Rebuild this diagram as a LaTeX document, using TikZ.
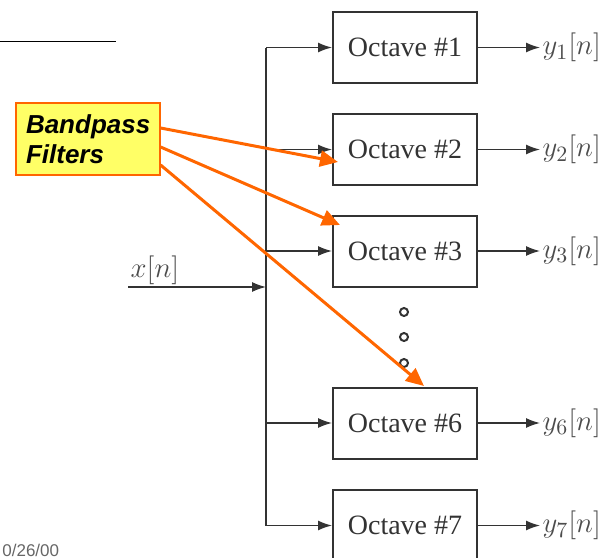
\documentclass[tikz,border=0pt]{standalone}
\usepackage{fontspec}
\setmainfont{Liberation Serif}
\newfontfamily\notefont{Liberation Sans}
\usetikzlibrary{arrows.meta}

\definecolor{noteorange}{HTML}{FF6600}
\definecolor{noteyellow}{HTML}{FFFF66}
\definecolor{wire}{HTML}{333333}

\begin{document}
\begin{tikzpicture}[x=0.5pt,y=-0.5pt,
    octave/.style={draw=wire,line width=1pt,minimum width=72pt,minimum height=35.5pt,inner sep=0pt,
        font=\fontsize{14}{16}\selectfont,text=black!80},
    sig/.style={-{Latex[length=7pt,width=5pt]},line width=0.7pt,draw=wire},
    sigtext/.style={text=black!70,font=\fontsize{15.5}{17}\selectfont,inner sep=1pt},
    hint/.style={-{Triangle[length=9pt,width=8pt]},line width=1.5pt,draw=noteorange},
    dot/.style={circle,draw=wire,line width=1pt,minimum size=4pt,inner sep=0pt}]
    \useasboundingbox (0,0) rectangle (612,558);

    % draw title rule
    \draw[line width=0.5pt] (0,41) -- (116,41);

    % draw octave boxes
    \node[octave] (oct1) at (405,47.5) {Octave \#1};
    \node[octave] (oct2) at (405,149.5) {Octave \#2};
    \node[octave] (oct3) at (405,251) {Octave \#3};
    \node[octave] (oct6) at (405,423) {Octave \#6};
    \node[octave] (oct7) at (405,525.5) {Octave \#7};

    % draw dots between boxes
    \node[dot] (dot1) at (404,312) {};
    \node[dot] (dot2) at (404,337) {};
    \node[dot] (dot3) at (404,363) {};

    % draw input and bus
    \coordinate (bus) at (266,0);
    \coordinate (xin) at (128,287);
    \coordinate (out) at (540,0);
    \draw[sig] (xin) node[sigtext,above right] (xlabel) {$x[n]$} -- (bus |- xin);
    \draw[line width=0.7pt,draw=wire] (bus |- oct1) -- (bus |- oct7);
    \foreach \k in {1,2,3,6,7} {
        \draw[sig] (bus |- oct\k) -- (oct\k.west);
        \draw[sig] (oct\k.east) -- (oct\k.east -| out) node[sigtext,right] (y\k) {$y_{\k}[n]$};
    }

    % draw bandpass note
    \node[draw=noteorange,line width=0.6pt,fill=noteyellow,minimum width=72pt,minimum height=36pt,
        inner xsep=5pt,text width=62pt,align=left,
        font=\notefont\bfseries\itshape\fontsize{13}{15}\selectfont] (bp) at (88,139) {Bandpass\\Filters};
    \coordinate (tip2) at (338,162);
    \coordinate (tip3) at (340,225);
    \coordinate (tip6) at (424,386);
    \draw[hint] ([yshift=5.5pt]bp.east) -- (tip2);
    \draw[hint] ([yshift=-4pt]bp.east) -- (tip3);
    \draw[hint] ([yshift=-13pt]bp.east) -- (tip6);

    % draw date
    \node[anchor=base west,inner sep=0pt,text=black!60,font=\notefont\fontsize{8.5}{10}\selectfont] (date) at (2,556.5) {0/26/00};
\end{tikzpicture}
\end{document}
